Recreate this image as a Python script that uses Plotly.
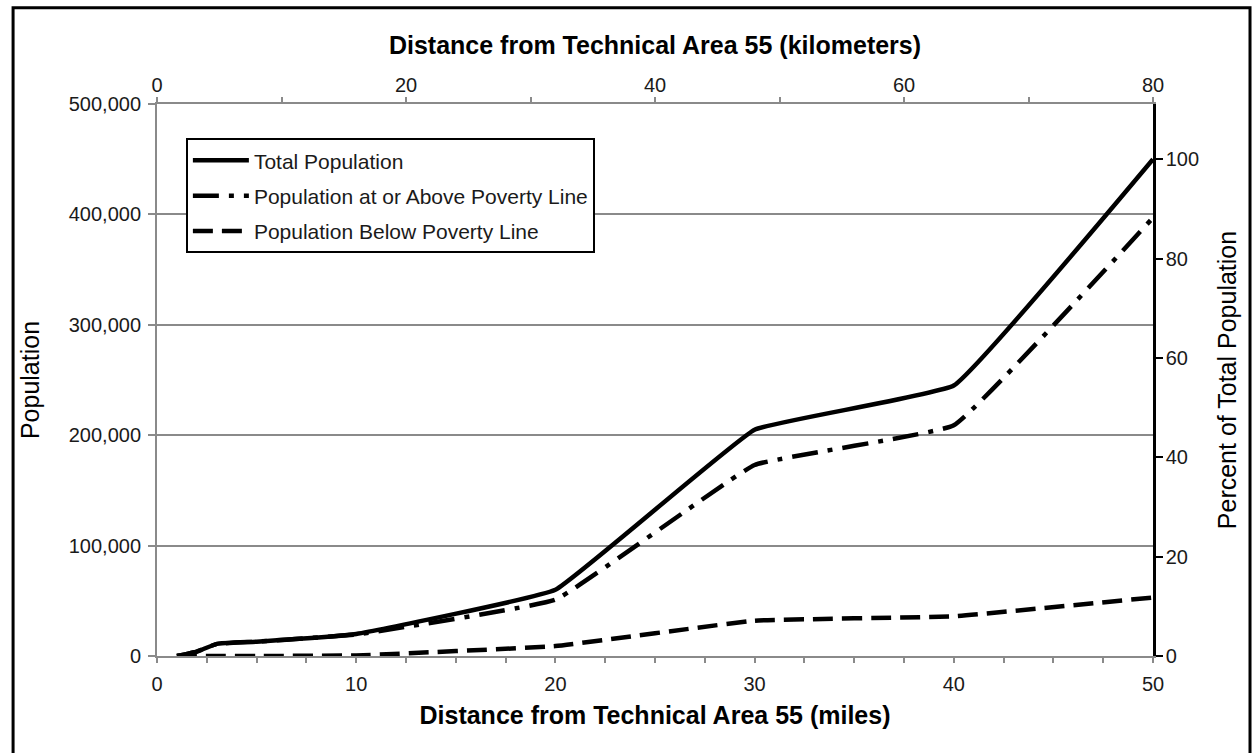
import plotly.graph_objects as go

# ---- data ----
miles = [1, 2, 3, 5, 10, 20, 30, 40, 50]
total_pop = [0, 4000, 11000, 13000, 20000, 60000, 205000, 245000, 450000]
above_poverty = [0, 4000, 11000, 13000, 19500, 51000, 173000, 209000, 397000]
below_poverty = [0, 0, 0, 0, 500, 9000, 32000, 36000, 53000]

series_names = ["Total Population",
                "Population at or Above Poverty Line",
                "Population Below Poverty Line"]

pop_ticks = [0, 100000, 200000, 300000, 400000, 500000]
pct_ticks = [0, 20, 40, 60, 80, 100]
km_ticks = [0, 20, 40, 60, 80]
mile_ticks = [0, 10, 20, 30, 40, 50]

FONT = "Liberation Sans, Arial, sans-serif"
GRID = "#8a8a8a"
KM_PER_MILE = 1.609344

fig = go.Figure()
dashes = ["solid", "26px,10px,5px,10px", "20px,9px"]
for name, ys, dash, grp in zip(series_names, [total_pop, above_poverty, below_poverty], dashes, ["a", "b", "c"]):
    fig.add_trace(go.Scatter(
        x=miles, y=ys, name=name, mode="lines", legendgroup=grp,
        line=dict(color="black", width=4.5, dash=dash, shape="spline", smoothing=0.25),
        xaxis="x", yaxis="y",
    ))

# percent-of-total series on the secondary (km / percent) axes, kept invisible;
# it only makes the top and right axes render
pct_total = [100 * v / total_pop[-1] for v in total_pop]
fig.add_trace(go.Scatter(
    x=[m * KM_PER_MILE for m in miles], y=pct_total, xaxis="x2", yaxis="y2",
    mode="lines", line=dict(width=0, color="rgba(0,0,0,0)"), opacity=0,
    hoverinfo="skip", showlegend=False,
))

pct_max = 100 * pop_ticks[-1] / total_pop[-1]

fig.update_layout(
    width=1252, height=753, autosize=False,
    margin=dict(l=157, r=99, t=104, b=97),
    paper_bgcolor="white", plot_bgcolor="white",
    font=dict(family=FONT, size=20, color="#1a1a1a"),
    showlegend=True,
    legend=dict(x=0.029, y=0.938, xanchor="left", yanchor="top",
                bordercolor="black", borderwidth=2, bgcolor="white",
                font=dict(family=FONT, size=21, color="#1a1a1a"),
                tracegroupgap=5, itemwidth=56),
    xaxis=dict(
        range=[0, 50], tickvals=mile_ticks, ticks="outside", ticklen=5, tickwidth=2,
        tickcolor=GRID, showline=True, linecolor=GRID, linewidth=2,
        showgrid=False, zeroline=False, ticklabelstandoff=4,
        minor=dict(dtick=2.5, ticks="outside", ticklen=5, tickwidth=2, tickcolor=GRID, showgrid=False),
        tickfont=dict(size=20),
        title=dict(text="Distance from Technical Area 55 (miles)",
                   font=dict(family=FONT, size=25, color="black", weight="bold"), standoff=12),
        automargin=False,
    ),
    xaxis2=dict(
        range=[0, 80], tickvals=km_ticks, overlaying="x", side="top", anchor="y",
        ticks="outside", ticklen=5, tickwidth=2, tickcolor=GRID,
        showline=True, linecolor=GRID, linewidth=2, showgrid=False, zeroline=False,
        ticklabelstandoff=-3,
        minor=dict(dtick=10, ticks="outside", ticklen=5, tickwidth=2, tickcolor=GRID, showgrid=False),
        tickfont=dict(size=20),
        title=dict(text="Distance from Technical Area 55 (kilometers)",
                   font=dict(family=FONT, size=25, color="black", weight="bold"), standoff=12),
        automargin=False,
    ),
    yaxis=dict(
        range=[0, 500000], tickvals=pop_ticks, tickformat=",d",
        ticks="outside", ticklen=7, tickwidth=2, tickcolor=GRID,
        showline=True, linecolor=GRID, linewidth=2, ticklabelstandoff=3,
        showgrid=True, gridcolor=GRID, gridwidth=2, zeroline=False,
        tickfont=dict(size=20),
        title=dict(text="Population", font=dict(family=FONT, size=25, color="black"), standoff=22),
        automargin=False,
    ),
    yaxis2=dict(
        range=[0, pct_max], tickvals=pct_ticks, overlaying="y", side="right", anchor="x",
        ticks="outside", ticklen=7, tickwidth=2, tickcolor="black",
        showline=True, linecolor="black", linewidth=2.5, showgrid=False, zeroline=False,
        ticklabelstandoff=-1,
        tickfont=dict(size=20),
        title=dict(text="Percent of Total Population", font=dict(family=FONT, size=25, color="black"), standoff=21),
        automargin=False,
    ),
    shapes=[dict(type="rect", xref="paper", yref="paper",
                 x0=-0.1445, x1=1.0974, y0=-0.25, y1=1.1745,
                 line=dict(color="black", width=3), fillcolor="rgba(0,0,0,0)", layer="above")],
)

fig.write_html(
    "out.html",
    config={"displayModeBar": False},
    post_script="document.body.style.margin='0';document.body.style.overflow='hidden';",
)
